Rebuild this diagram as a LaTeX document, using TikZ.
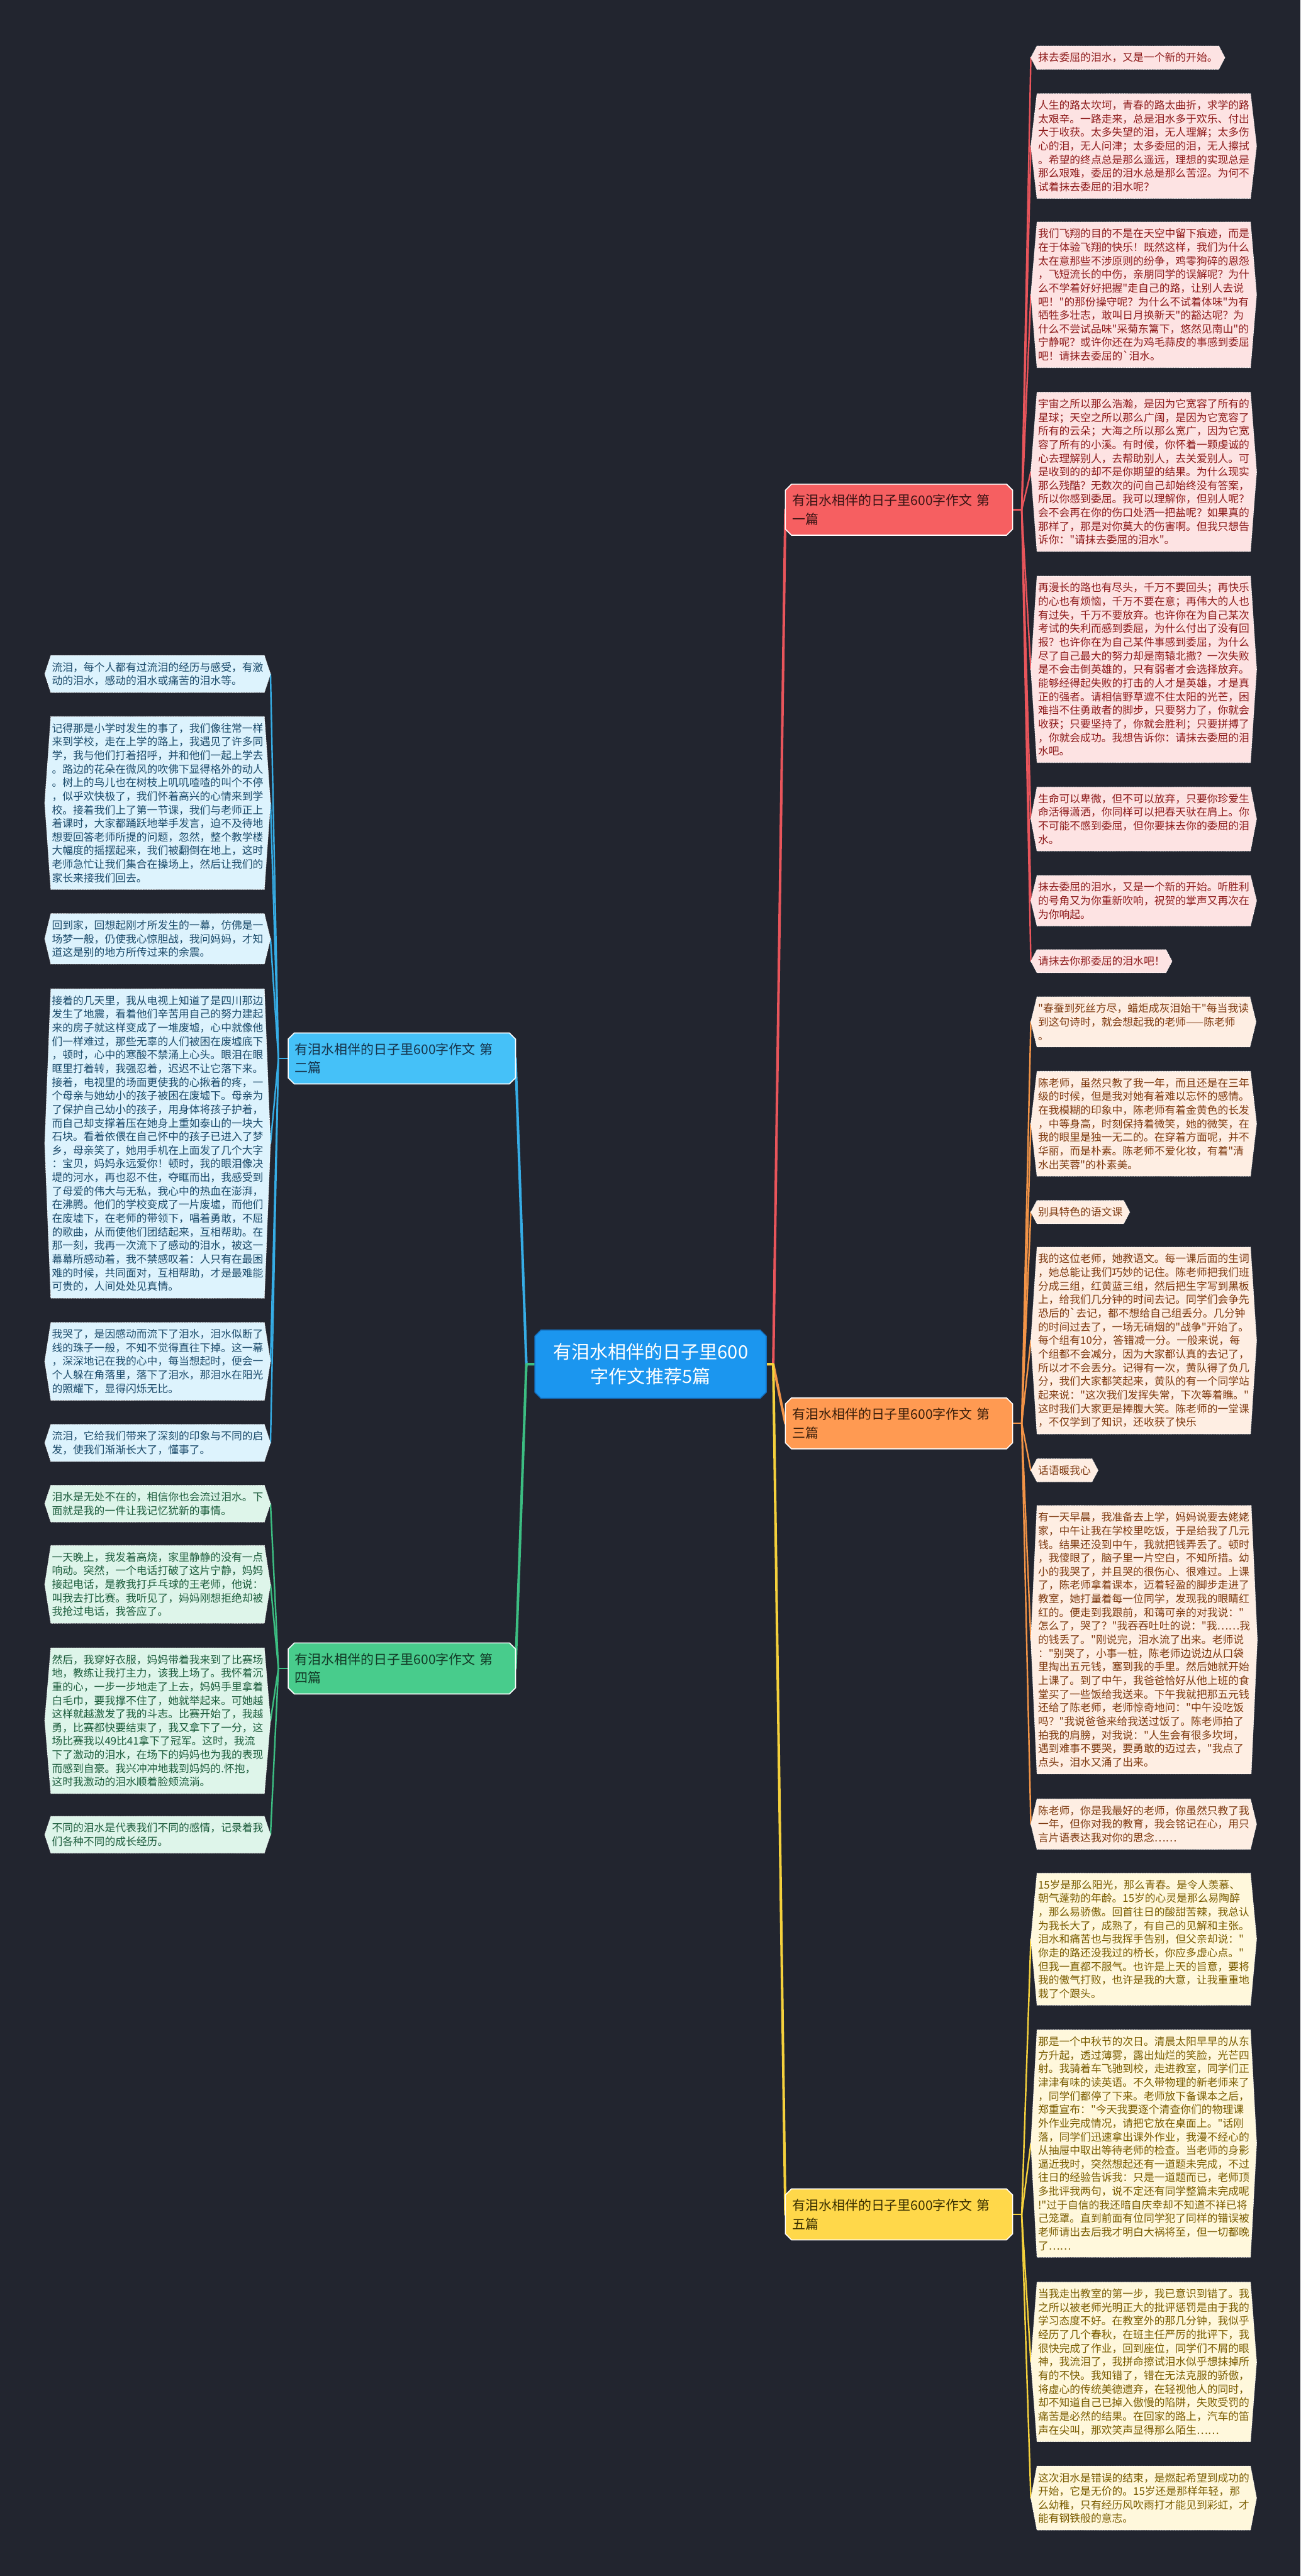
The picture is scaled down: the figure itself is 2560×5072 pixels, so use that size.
\documentclass[tikz,border=0pt]{standalone}
\usepackage{fontspec}
\newfontfamily\cjk{Noto Sans CJK SC}
\usetikzlibrary{backgrounds,calc}
\definecolor{bg}{HTML}{22252F}
\definecolor{cRed}{HTML}{E9555B}\definecolor{bRed}{HTML}{F65F61}\definecolor{fRed}{HTML}{FDE3E3}\definecolor{tRed}{HTML}{8E1B1B}\definecolor{kRed}{HTML}{3A1414}
\definecolor{cOra}{HTML}{F39447}\definecolor{bOra}{HTML}{FF9A52}\definecolor{fOra}{HTML}{FEEEE3}\definecolor{tOra}{HTML}{7F3A10}\definecolor{kOra}{HTML}{3A1E0A}
\definecolor{cYel}{HTML}{F5D13C}\definecolor{bYel}{HTML}{FFD84A}\definecolor{fYel}{HTML}{FFF8DC}\definecolor{tYel}{HTML}{7A5C00}\definecolor{kYel}{HTML}{3A3000}
\definecolor{cBlu}{HTML}{36ADE6}\definecolor{bBlu}{HTML}{45C1F8}\definecolor{fBlu}{HTML}{DDF3FD}\definecolor{tBlu}{HTML}{1B4B6B}\definecolor{kBlu}{HTML}{16344C}
\definecolor{cGrn}{HTML}{3CBE82}\definecolor{bGrn}{HTML}{48CC8C}\definecolor{fGrn}{HTML}{DEF5EA}\definecolor{tGrn}{HTML}{1C5C3C}\definecolor{kGrn}{HTML}{123A26}
\definecolor{cen}{HTML}{1B96EF}\definecolor{cenline}{HTML}{1470C0}
\newcommand\leafhex[3]{\path[fill=#2,draw=white,densely dotted,line width=1pt]
  ([xshift=-12pt]#1.west) -- (#1.north west) -- (#1.north east) -- ([xshift=12pt]#1.east)
  -- (#1.south east) -- (#1.south west) -- cycle;}
\newcommand\chamf[4]{\path[fill=#2,draw=#3,line width=2pt]
  ([xshift=#4]#1.north west) -- ([xshift=-#4]#1.north east) -- ([yshift=-#4]#1.north east)
  -- ([yshift=#4]#1.south east) -- ([xshift=-#4]#1.south east) -- ([xshift=#4]#1.south west)
  -- ([yshift=#4]#1.south west) -- ([yshift=-#4]#1.north west) -- cycle;}
\tikzset{
  leaf/.style={inner xsep=2pt,inner ysep=13pt,align=left,anchor=west,
    font=\cjk\fontsize{20.8}{26.8}\selectfont},
  branch/.style={text width=421pt,inner xsep=13pt,inner ysep=0pt,minimum height=100pt,
    align=left,font=\cjk\fontsize{26}{37}\selectfont},
  mainline/.style={line width=5pt,line cap=round,line join=round},
  subline/.style={line width=3pt,line cap=round,line join=round},
}
\begin{document}
\begin{tikzpicture}[x=1pt,y=-1pt]
\useasboundingbox (0,0) rectangle (2560,5072);
% centre
\node[minimum width=455pt,minimum height=134pt,inner sep=0pt,align=center,text=white,
  font=\cjk\fontsize{36}{48}\selectfont] (c) at (1280.5,2686) {有泪水相伴的日子里600\\字作文推荐5篇};
% branches
\node[branch,text=kRed] (b1) at (1769.5,1003.5) {有泪水相伴的日子里600字作文 第\\一篇};
\node[branch,text=kOra] (b3) at (1769.5,2802.5) {有泪水相伴的日子里600字作文 第\\三篇};
\node[branch,text=kYel] (b5) at (1769.5,4360) {有泪水相伴的日子里600字作文 第\\五篇};
\node[branch,text=kBlu] (b2) at (791,2084) {有泪水相伴的日子里600字作文 第\\二篇};
\node[branch,text=kGrn] (b4) at (791,3285) {有泪水相伴的日子里600字作文 第\\四篇};
% branch 1 leaves
\begin{scope}[every node/.append style={leaf,text=tRed}]
\node (r1a) at (2041,113.5) {抹去委屈的泪水，又是一个新的开始。};
\node (r1b) at (2041,287.5) {人生的路太坎坷，青春的路太曲折，求学的路\\太艰辛。一路走来，总是泪水多于欢乐、付出\\大于收获。太多失望的泪，无人理解；太多伤\\心的泪，无人问津；太多委屈的泪，无人擦拭\\。希望的终点总是那么遥远，理想的实现总是\\那么艰难，委屈的泪水总是那么苦涩。为何不\\试着抹去委屈的泪水呢？};
\node (r1c) at (2041,580.5) {我们飞翔的目的不是在天空中留下痕迹，而是\\在于体验飞翔的快乐！既然这样，我们为什么\\太在意那些不涉原则的纷争，鸡零狗碎的恩怨\\，飞短流长的中伤，亲朋同学的误解呢？为什\\么不学着好好把握"走自己的路，让别人去说\\吧！"的那份操守呢？为什么不试着体味"为有\\牺牲多壮志，敢叫日月换新天"的豁达呢？为\\什么不尝试品味"采菊东篱下，悠然见南山"的\\宁静呢？或许你还在为鸡毛蒜皮的事感到委屈\\吧！请抹去委屈的`泪水。};
\node (r1d) at (2041,929) {宇宙之所以那么浩瀚，是因为它宽容了所有的\\星球；天空之所以那么广阔，是因为它宽容了\\所有的云朵；大海之所以那么宽广，因为它宽\\容了所有的小溪。有时候，你怀着一颗虔诚的\\心去理解别人，去帮助别人，去关爱别人。可\\是收到的的却不是你期望的结果。为什么现实\\那么残酷？无数次的问自己却始终没有答案，\\所以你感到委屈。我可以理解你，但别人呢？\\会不会再在你的伤口处洒一把盐呢？如果真的\\那样了，那是对你莫大的伤害啊。但我只想告\\诉你："请抹去委屈的泪水"。};
\node (r1e) at (2041,1318) {再漫长的路也有尽头，千万不要回头；再快乐\\的心也有烦恼，千万不要在意；再伟大的人也\\有过失，千万不要放弃。也许你在为自己某次\\考试的失利而感到委屈，为什么付出了没有回\\报？也许你在为自己某件事感到委屈，为什么\\尽了自己最大的努力却是南辕北撤？一次失败\\是不会击倒英雄的，只有弱者才会选择放弃。\\能够经得起失败的打击的人才是英雄，才是真\\正的强者。请相信野草遮不住太阳的光芒，困\\难挡不住勇敢者的脚步，只要努力了，你就会\\收获；只要坚持了，你就会胜利；只要拼搏了\\，你就会成功。我想告诉你：请抹去委屈的泪\\水吧。};
\node (r1f) at (2041,1612.5) {生命可以卑微，但不可以放弃，只要你珍爱生\\命活得潇洒，你同样可以把春天驮在肩上。你\\不可能不感到委屈，但你要抹去你的委屈的泪\\水。};
\node (r1g) at (2041,1773.5) {抹去委屈的泪水，又是一个新的开始。听胜利\\的号角又为你重新吹响，祝贺的掌声又再次在\\为你响起。};
\node (r1h) at (2041,1892.5) {请抹去你那委屈的泪水吧！};
\end{scope}
% branch 3 leaves
\begin{scope}[every node/.append style={leaf,text=tOra}]
\node (r3a) at (2041,2012) {"春蚕到死丝方尽，蜡炬成灰泪始干"每当我读\\到这句诗时，就会想起我的老师——陈老师\\。};
\node (r3b) at (2041,2212.5) {陈老师，虽然只教了我一年，而且还是在三年\\级的时候，但是我对她有着难以忘怀的感情。\\在我模糊的印象中，陈老师有着金黄色的长发\\，中等身高，时刻保持着微笑，她的微笑，在\\我的眼里是独一无二的。在穿着方面呢，并不\\华丽，而是朴素。陈老师不爱化妆，有着"清\\水出芙蓉"的朴素美。};
\node (r3c) at (2041,2386.5) {别具特色的语文课};
\node (r3d) at (2041,2639.5) {我的这位老师，她教语文。每一课后面的生词\\，她总能让我们巧妙的记住。陈老师把我们班\\分成三组，红黄蓝三组，然后把生字写到黑板\\上，给我们几分钟的时间去记。同学们会争先\\恐后的`去记，都不想给自己组丢分。几分钟\\的时间过去了，一场无硝烟的"战争"开始了。\\每个组有10分，答错减一分。一般来说，每\\个组都不会减分，因为大家都认真的去记了，\\所以才不会丢分。记得有一次，黄队得了负几\\分，我们大家都笑起来，黄队的有一个同学站\\起来说："这次我们发挥失常，下次等着瞧。"\\这时我们大家更是捧腹大笑。陈老师的一堂课\\，不仅学到了知识，还收获了快乐};
\node (r3e) at (2041,2895) {话语暖我心};
\node (r3f) at (2041,3228.5) {有一天早晨，我准备去上学，妈妈说要去姥姥\\家，中午让我在学校里吃饭，于是给我了几元\\钱。结果还没到中午，我就把钱弄丢了。顿时\\，我傻眼了，脑子里一片空白，不知所措。幼\\小的我哭了，并且哭的很伤心、很难过。上课\\了，陈老师拿着课本，迈着轻盈的脚步走进了\\教室，她打量着每一位同学，发现我的眼睛红\\红的。便走到我跟前，和蔼可亲的对我说："\\怎么了，哭了？"我吞吞吐吐的说："我……我\\的钱丢了。"刚说完，泪水流了出来。老师说\\："别哭了，小事一桩，陈老师边说边从口袋\\里掏出五元钱，塞到我的手里。然后她就开始\\上课了。到了中午，我爸爸恰好从他上班的食\\堂买了一些饭给我送来。下午我就把那五元钱\\还给了陈老师，老师惊奇地问："中午没吃饭\\吗？"我说爸爸来给我送过饭了。陈老师拍了\\拍我的肩膀，对我说："人生会有很多坎坷，\\遇到难事不要哭，要勇敢的迈过去，"我点了\\点头，泪水又涌了出来。};
\node (r3g) at (2041,3591.5) {陈老师，你是我最好的老师，你虽然只教了我\\一年，但你对我的教育，我会铭记在心，用只\\言片语表达我对你的思念……};
\end{scope}
% branch 5 leaves
\begin{scope}[every node/.append style={leaf,text=tYel}]
\node (r5a) at (2041,3818) {15岁是那么阳光，那么青春。是令人羡慕、\\朝气蓬勃的年龄。15岁的心灵是那么易陶醉\\，那么易骄傲。回首往日的酸甜苦辣，我总认\\为我长大了，成熟了，有自己的见解和主张。\\泪水和痛苦也与我挥手告别，但父亲却说："\\你走的路还没我过的桥长，你应多虚心点。"\\但我一直都不服气。也许是上天的旨意，要将\\我的傲气打败，也许是我的大意，让我重重地\\栽了个跟头。};
\node (r5b) at (2041,4220.5) {那是一个中秋节的次日。清晨太阳早早的从东\\方升起，透过薄雾，露出灿烂的笑脸，光芒四\\射。我骑着车飞驰到校，走进教室，同学们正\\津津有味的读英语。不久带物理的新老师来了\\，同学们都停了下来。老师放下备课本之后，\\郑重宣布："今天我要逐个清查你们的物理课\\外作业完成情况，请把它放在桌面上。"话刚\\落，同学们迅速拿出课外作业，我漫不经心的\\从抽屉中取出等待老师的检查。当老师的身影\\逼近我时，突然想起还有一道题未完成，不过\\往日的经验告诉我：只是一道题而已，老师顶\\多批评我两句，说不定还有同学整篇未完成呢\\!"过于自信的我还暗自庆幸却不知道不祥已将\\己笼罩。直到前面有位同学犯了同样的错误被\\老师请出去后我才明白大祸将至，但一切都晚\\了……};
\node (r5c) at (2041,4650.5) {当我走出教室的第一步，我已意识到错了。我\\之所以被老师光明正大的批评惩罚是由于我的\\学习态度不好。在教室外的那几分钟，我似乎\\经历了几个春秋，在班主任严厉的批评下，我\\很快完成了作业，回到座位，同学们不屑的眼\\神，我流泪了，我拼命擦试泪水似乎想抹掉所\\有的不快。我知错了，错在无法克服的骄傲，\\将虚心的传统美德遗弃，在轻视他人的同时，\\却不知道自己已掉入傲慢的陷阱，失败受罚的\\痛苦是必然的结果。在回家的路上，汽车的笛\\声在尖叫，那欢笑声显得那么陌生……};
\node (r5d) at (2041,4918.5) {这次泪水是错误的结束，是燃起希望到成功的\\开始，它是无价的。15岁还是那样年轻，那\\么幼稚，只有经历风吹雨打才能见到彩虹，才\\能有钢铁般的意志。};
\end{scope}
% branch 2 leaves
\begin{scope}[every node/.append style={leaf,text=tBlu}]
\node (l2a) at (100,1327) {流泪，每个人都有过流泪的经历与感受，有激\\动的泪水，感动的泪水或痛苦的泪水等。};
\node (l2b) at (100,1581) {记得那是小学时发生的事了，我们像往常一样\\来到学校，走在上学的路上，我遇见了许多同\\学，我与他们打着招呼，并和他们一起上学去\\。路边的花朵在微风的吹佛下显得格外的动人\\。树上的鸟儿也在树枝上叽叽喳喳的叫个不停\\，似乎欢快极了，我们怀着高兴的心情来到学\\校。接着我们上了第一节课，我们与老师正上\\着课时，大家都踊跃地举手发言，迫不及待地\\想要回答老师所提的问题，忽然，整个教学楼\\大幅度的摇摆起来，我们被翻倒在地上，这时\\老师急忙让我们集合在操场上，然后让我们的\\家长来接我们回去。};
\node (l2c) at (100,1848.5) {回到家，回想起刚才所发生的一幕，仿佛是一\\场梦一般，仍使我心惊胆战，我问妈妈，才知\\道这是别的地方所传过来的余震。};
\node (l2d) at (100,2251.5) {接着的几天里，我从电视上知道了是四川那边\\发生了地震，看着他们辛苦用自己的努力建起\\来的房子就这样变成了一堆废墟，心中就像他\\们一样难过，那些无辜的人们被困在废墟底下\\，顿时，心中的寒酸不禁涌上心头。眼泪在眼\\眶里打着转，我强忍着，迟迟不让它落下来。\\接着，电视里的场面更使我的心揪着的疼，一\\个母亲与她幼小的孩子被困在废墟下。母亲为\\了保护自己幼小的孩子，用身体将孩子护着，\\而自己却支撑着压在她身上重如泰山的一块大\\石块。看着依偎在自己怀中的孩子已进入了梦\\乡，母亲笑了，她用手机在上面发了几个大字\\：宝贝，妈妈永远爱你！顿时，我的眼泪像决\\堤的河水，再也忍不住，夺眶而出，我感受到\\了母爱的伟大与无私，我心中的热血在澎湃，\\在沸腾。他们的学校变成了一片废墟，而他们\\在废墟下，在老师的带领下，唱着勇敢，不屈\\的歌曲，从而使他们团结起来，互相帮助。在\\那一刻，我再一次流下了感动的泪水，被这一\\幕幕所感动着，我不禁感叹着：人只有在最困\\难的时候，共同面对，互相帮助，才是最难能\\可贵的，人间处处见真情。};
\node (l2e) at (100,2680.5) {我哭了，是因感动而流下了泪水，泪水似断了\\线的珠子一般，不知不觉得直往下掉。这一幕\\，深深地记在我的心中，每当想起时，便会一\\个人躲在角落里，落下了泪水，那泪水在阳光\\的照耀下，显得闪烁无比。};
\node (l2f) at (100,2841) {流泪，它给我们带来了深刻的印象与不同的启\\发，使我们渐渐长大了，懂事了。};
\end{scope}
% branch 4 leaves
\begin{scope}[every node/.append style={leaf,text=tGrn}]
\node (l4a) at (100,2960.5) {泪水是无处不在的，相信你也会流过泪水。下\\面就是我的一件让我记忆犹新的事情。};
\node (l4b) at (100,3119.5) {一天晚上，我发着高烧，家里静静的没有一点\\响动。突然，一个电话打破了这片宁静，妈妈\\接起电话，是教我打乒乓球的王老师，他说：\\叫我去打比赛。我听见了，妈妈刚想拒绝却被\\我抢过电话，我答应了。};
\node (l4c) at (100,3388) {然后，我穿好衣服，妈妈带着我来到了比赛场\\地，教练让我打主力，该我上场了。我怀着沉\\重的心，一步一步地走了上去，妈妈手里拿着\\白毛巾，要我撑不住了，她就举起来。可她越\\这样就越激发了我的斗志。比赛开始了，我越\\勇，比赛都快要结束了，我又拿下了一分，这\\场比赛我以49比41拿下了冠军。这时，我流\\下了激动的泪水，在场下的妈妈也为我的表现\\而感到自豪。我兴冲冲地栽到妈妈的.怀抱，\\这时我激动的泪水顺着脸颊流淌。};
\node (l4d) at (100,3612.5) {不同的泪水是代表我们不同的感情，记录着我\\们各种不同的成长经历。};
\end{scope}
% junctions
\coordinate (cR) at (1522,2686);
\coordinate (cL) at (1036,2686);
\coordinate (j1) at (2011,1003.5);
\coordinate (j3) at (2011,2802.5);
\coordinate (j5) at (2011,4360);
\coordinate (j2) at (548,2084);
\coordinate (j4) at (548,3285);
\begin{scope}[on background layer]
\fill[bg] (0,0) rectangle (2560,5072);
% main connectors
\draw[mainline,cRed] (c.east) -- (cR) -- (b1.west);
\draw[mainline,cOra] (c.east) -- (cR) -- (b3.west);
\draw[mainline,cYel] (c.east) -- (cR) -- (b5.west);
\draw[mainline,cBlu] (c.west) -- (cL) -- (b2.east);
\draw[mainline,cGrn] (c.west) -- (cL) -- (b4.east);
% leaf connectors
\draw[subline,cRed] (b1.east) -- (j1);
\foreach \n in {r1a,r1b,r1c,r1d,r1e,r1f,r1g,r1h} \draw[subline,cRed] (j1) -- ([xshift=-12pt]\n.west);
\draw[subline,cOra] (b3.east) -- (j3);
\foreach \n in {r3a,r3b,r3c,r3d,r3e,r3f,r3g} \draw[subline,cOra] (j3) -- ([xshift=-12pt]\n.west);
\draw[subline,cYel] (b5.east) -- (j5);
\foreach \n in {r5a,r5b,r5c,r5d} \draw[subline,cYel] (j5) -- ([xshift=-12pt]\n.west);
\draw[subline,cBlu] (b2.west) -- (j2);
\foreach \n in {l2a,l2b,l2c,l2d,l2e,l2f} \draw[subline,cBlu] (j2) -- ([xshift=12pt]\n.east);
\draw[subline,cGrn] (b4.west) -- (j4);
\foreach \n in {l4a,l4b,l4c,l4d} \draw[subline,cGrn] (j4) -- ([xshift=12pt]\n.east);
% node shapes
\chamf{c}{cen}{cenline}{12pt}
\chamf{b1}{bRed}{white}{12pt}
\chamf{b3}{bOra}{white}{12pt}
\chamf{b5}{bYel}{white}{12pt}
\chamf{b2}{bBlu}{white}{12pt}
\chamf{b4}{bGrn}{white}{12pt}
\foreach \n in {r1a,r1b,r1c,r1d,r1e,r1f,r1g,r1h} {\leafhex{\n}{fRed}{12pt}}
\foreach \n in {r3a,r3b,r3c,r3d,r3e,r3f,r3g} {\leafhex{\n}{fOra}{12pt}}
\foreach \n in {r5a,r5b,r5c,r5d} {\leafhex{\n}{fYel}{12pt}}
\foreach \n in {l2a,l2b,l2c,l2d,l2e,l2f} {\leafhex{\n}{fBlu}{12pt}}
\foreach \n in {l4a,l4b,l4c,l4d} {\leafhex{\n}{fGrn}{12pt}}
\end{scope}
\end{tikzpicture}
\end{document}
